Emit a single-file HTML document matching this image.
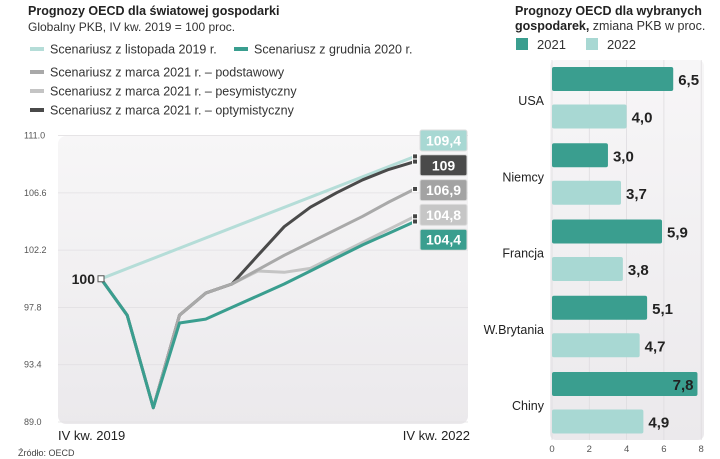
<!DOCTYPE html>
<html><head><meta charset="utf-8">
<style>
body{margin:0;background:#fff;width:720px;height:459px;overflow:hidden;font-family:"Liberation Sans",sans-serif;}
svg{position:absolute;left:0;top:0}
</style></head>
<body>
<svg id="c" width="720" height="459" viewBox="0 0 720 459">
<defs>
<linearGradient id="bg" x1="0" y1="0" x2="0" y2="1"><stop offset="0" stop-color="#f7f6f7"/><stop offset="1" stop-color="#ebe9ec"/></linearGradient>
</defs>
<text x="28" y="15" font-size="12.5" font-weight="bold" fill="#222">Prognozy OECD dla światowej gospodarki</text>
<text x="28" y="31" font-size="12" fill="#333">Globalny PKB, IV kw. 2019 = 100 proc.</text>
<rect x="58" y="136" width="410" height="288" rx="8" fill="url(#bg)"/>
<g id="legL"></g>
<g id="gridL"></g>
<g id="linesL"></g>
<g id="lblL"></g>
<text x="58" y="440" font-size="13" fill="#222">IV kw. 2019</text>
<text x="470" y="440" font-size="13" fill="#222" text-anchor="end">IV kw. 2022</text>
<text x="18" y="456" font-size="9" fill="#444">Źródło: OECD</text>

<text x="515" y="15" font-size="12.5" font-weight="bold" fill="#222">Prognozy OECD dla wybranych</text>
<text x="515" y="30" font-size="12.5" fill="#333"><tspan font-weight="bold" fill="#222">gospodarek,</tspan> zmiana PKB w proc.</text>
<rect x="516" y="38" width="12" height="12" fill="#3a9e8f"/>
<text x="537" y="49" font-size="13" fill="#333">2021</text>
<rect x="586" y="38" width="12" height="12" fill="#a8d8d3"/>
<text x="607" y="49" font-size="13" fill="#333">2022</text>
<rect x="550" y="60" width="154" height="380" rx="6" fill="url(#bg)"/>
<g id="bars"></g>
</svg>
<script>
// Left chart data
const quarters = [0,1,2,3,4,5,6,7,8,9,10,11,12];
const nov2019 = [[0,100],[12,109.4]];
const dec2020 = [100,97.2,90.1,96.6,96.9,97.8,98.7,99.6,100.6,101.6,102.6,103.5,104.4];
const marBase = [100,97.2,90.1,97.2,98.9,99.6,100.7,101.8,102.8,103.8,104.8,105.9,106.9];
const marPess = [100,97.2,90.1,97.2,98.9,99.6,100.6,100.5,100.8,101.8,102.8,103.8,104.8];
const marOpt = [100,97.2,90.1,97.2,98.9,99.6,101.8,104.0,105.5,106.6,107.6,108.4,109];
const yTicks = [111.0,106.6,102.2,97.8,93.4,89.0];
const endLabels = ["109,4","109","106,9","104,8","104,4"];
// Right chart data
const countries = ["USA","Niemcy","Francja","W.Brytania","Chiny"];
const v2021 = [6.5,3.0,5.9,5.1,7.8];
const v2022 = [4.0,3.7,3.8,4.7,4.9];
const labels2021 = ["6,5","3,0","5,9","5,1","7,8"];
const labels2022 = ["4,0","3,7","3,8","4,7","4,9"];
const xTicks = [0,2,4,6,8];

const NS="http://www.w3.org/2000/svg";
function mk(p,t,a,txt){const e=document.createElementNS(NS,t);for(const k in a)e.setAttribute(k,a[k]);if(txt!==undefined)e.textContent=txt;p.appendChild(e);return e;}
const X=q=>101+q*26.17;
const Y=v=>422-(v-89)*13.02;

const grid=document.getElementById('gridL');
yTicks.forEach(t=>{
  const l=mk(grid,'line',{x1:58,x2:468,y1:Y(t),y2:Y(t),stroke:'#e2e0e3','stroke-width':0.8});
  
  
  const tx=mk(grid,'text',{x:24,y:Y(t)+3,'font-size':9,fill:'#555'},t.toFixed(1));
  
  
});

const lines=document.getElementById('linesL');
function path(pts,col,name){
  const d=pts.map((p,i)=>(i?'L':'M')+X(p[0]).toFixed(1)+' '+Y(p[1]).toFixed(1)).join(' ');
  const e=mk(lines,'path',{d:d,fill:'none',stroke:col,'stroke-width':3,'stroke-linejoin':'round'});
  
  
}
const ser=a=>a.map((v,i)=>[quarters[i],v]);
path(nov2019,'#b5ddd8','line-nov-2019');
path(ser(marPess),'#c4c4c4','line-mar-2021-pessimistic');
path(ser(marOpt),'#4a4a4a','line-mar-2021-optimistic');
path(ser(marBase),'#a9a9a9','line-mar-2021-base');
path(ser(dec2020),'#3a9e8f','line-dec-2020');
[nov2019[1][1],marOpt[12],marBase[12],marPess[12],dec2020[12]].forEach(v=>{
  const m=mk(lines,'rect',{x:X(12)-2.5,y:Y(v)-2.5,width:5,height:5,fill:'#444',stroke:'#fff','stroke-width':1});
  
  
});
const sm=mk(lines,'rect',{x:X(0)-3,y:Y(100)-3,width:6,height:6,fill:'#fff',stroke:'#555','stroke-width':1});


const h=mk(lines,'text',{x:X(0)-6,y:Y(100)+5,'font-size':14,'font-weight':'bold','text-anchor':'end',fill:'#222'},'100');



const lbl=document.getElementById('lblL');
const lcol=['#a8d8d3','#4a4a4a','#a3a3a3','#c6c6c6','#3a9e8f'];
endLabels.forEach((t,i)=>{
  const y=130+i*24.8;
  const r=mk(lbl,'rect',{x:420,y:y,width:47,height:21,rx:2,fill:lcol[i],stroke:'#ddd','stroke-width':1});
  
  
  const tx=mk(lbl,'text',{x:443.5,y:y+15.5,'font-size':14,'font-weight':'bold','text-anchor':'middle',fill:'#fff'},t);
  
  
});

const leg=document.getElementById('legL');
const legItems=[[30,49,'#b5ddd8','Scenariusz z listopada 2019 r.'],[234,49,'#3a9e8f','Scenariusz z grudnia 2020 r.'],[30,72,'#a9a9a9','Scenariusz z marca 2021 r. – podstawowy'],[30,91,'#c4c4c4','Scenariusz z marca 2021 r. – pesymistyczny'],[30,110,'#4a4a4a','Scenariusz z marca 2021 r. – optymistyczny']];
legItems.forEach(it=>{
  const l=mk(leg,'line',{x1:it[0],x2:it[0]+14,y1:it[1],y2:it[1],stroke:it[2],'stroke-width':4});
  
  
  const t=mk(leg,'text',{x:it[0]+20,y:it[1]+4.5,'font-size':12.5,fill:'#333'},it[3]);
  
  
});

// Right chart
const bars=document.getElementById('bars');
const BX=v=>552+v*18.65;
xTicks.forEach(t=>{
  const l=mk(bars,'line',{x1:BX(t),x2:BX(t),y1:60,y2:440,stroke:'#dedcdf','stroke-width':0.8});
  
  
  const tx=mk(bars,'text',{x:BX(t),y:452,'font-size':9.5,'text-anchor':'middle',fill:'#555'},t);
  
  
});
countries.forEach((c,i)=>{
  const y0=67+i*76.25;
  const b1=mk(bars,'rect',{x:BX(0),y:y0,width:BX(v2021[i])-BX(0),height:24,rx:2,fill:'#3a9e8f'});
  
  
  const b2=mk(bars,'rect',{x:BX(0),y:y0+37.5,width:BX(v2022[i])-BX(0),height:24,rx:2,fill:'#a8d8d3'});
  
  
  const inside=BX(v2021[i])+34>718;
  const t1=mk(bars,'text',{x:inside?BX(v2021[i])-4:BX(v2021[i])+5,y:y0+18,'font-size':15,'font-weight':'bold','text-anchor':inside?'end':'start',fill:'#222'},labels2021[i]);
  
  
  const t2=mk(bars,'text',{x:BX(v2022[i])+5,y:y0+55.5,'font-size':15,'font-weight':'bold',fill:'#222'},labels2022[i]);
  
  
  const cl=mk(bars,'text',{x:544,y:y0+38,'font-size':12.5,'text-anchor':'end',fill:'#222'},c);
  
  
});
</script>
</body></html>
